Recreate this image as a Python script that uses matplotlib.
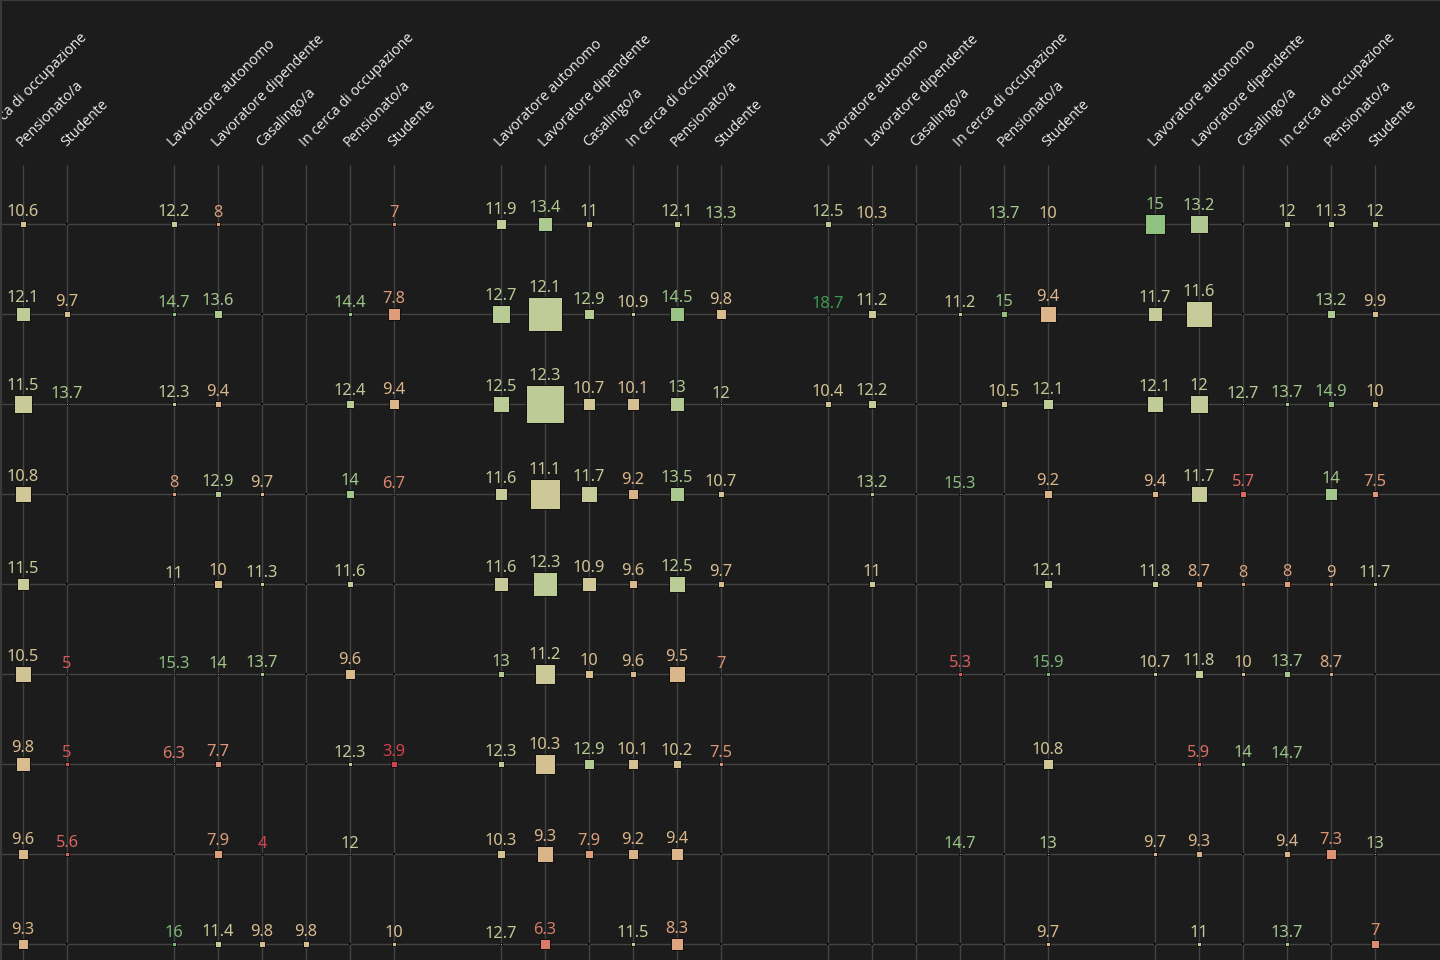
import numpy as np
import matplotlib
matplotlib.use("Agg")
import matplotlib.pyplot as plt
from matplotlib.colors import LinearSegmentedColormap, Normalize
from matplotlib.lines import Line2D

OUT = "out.png"
BG = "#1c1c1c"
GRID = "#444444"

COLS = ["Lavoratore autonomo", "Lavoratore dipendente", "Casalingo/a",
        "In cerca di occupazione", "Pensionato/a", "Studente"]
N_ROWS = 9
N = None

# ---- values (label) and sample size (marker area), one 9x6 block per panel ----
# panel 0 is cut off on the left: only Pensionato/a and Studente are visible
G0_VAL = [[N, N, N, N, 10.6, N],
          [N, N, N, N, 12.1, 9.7],
          [N, N, N, N, 11.5, 13.7],
          [N, N, N, N, 10.8, N],
          [N, N, N, N, 11.5, N],
          [N, N, N, N, 10.5, 5],
          [N, N, N, N, 9.8, 5],
          [N, N, N, N, 9.6, 5.6],
          [N, N, N, N, 9.3, N]]
G0_N = [[N, N, N, N, 46, N],
        [N, N, N, N, 190, 28],
        [N, N, N, N, 290, 3],
        [N, N, N, N, 250, N],
        [N, N, N, N, 165, N],
        [N, N, N, N, 280, 3],
        [N, N, N, N, 215, 18],
        [N, N, N, N, 115, 22],
        [N, N, N, N, 115, N]]

G1_VAL = [[12.2, 8, N, N, N, 7],
          [14.7, 13.6, N, N, 14.4, 7.8],
          [12.3, 9.4, N, N, 12.4, 9.4],
          [8, 12.9, 9.7, N, 14, 6.7],
          [11, 10, 11.3, N, 11.6, N],
          [15.3, 14, 13.7, N, 9.6, N],
          [6.3, 7.7, N, N, 12.3, 3.9],
          [N, 7.9, 4, N, 12, N],
          [16, 11.4, 9.8, 9.8, N, 10]]
G1_N = [[26, 15, N, N, N, 24],
        [15, 64, N, N, 15, 160],
        [24, 32, N, N, 72, 120],
        [21, 48, 15, N, 72, 1],
        [2, 68, 24, N, 36, N],
        [1, 7, 10, N, 100, N],
        [7, 36, N, N, 13, 28],
        [N, 54, 5, N, 7, N],
        [13, 36, 36, 40, N, 24]]

G2_VAL = [[11.9, 13.4, 11, N, 12.1, 13.3],
          [12.7, 12.1, 12.9, 10.9, 14.5, 9.8],
          [12.5, 12.3, 10.7, 10.1, 13, 12],
          [11.6, 11.1, 11.7, 9.2, 13.5, 10.7],
          [11.6, 12.3, 10.9, 9.6, 12.5, 9.7],
          [13, 11.2, 10, 9.6, 9.5, 7],
          [12.3, 10.3, 12.9, 10.1, 10.2, 7.5],
          [10.3, 9.3, 7.9, 9.2, 9.4, N],
          [12.7, 6.3, N, 11.5, 8.3, N]]
G2_N = [[110, 175, 42, N, 40, 7],
        [306, 1190, 110, 18, 220, 120],
        [264, 1480, 150, 132, 175, 5],
        [126, 870, 240, 120, 175, 48],
        [210, 600, 210, 68, 272, 42],
        [40, 370, 54, 48, 240, 3],
        [40, 395, 110, 96, 72, 21],
        [68, 232, 62, 104, 140, N],
        [3, 104, N, 18, 132, N]]

G3_VAL = [[12.5, 10.3, N, N, 13.7, 10],
          [18.7, 11.2, N, 11.2, 15, 9.4],
          [10.4, 12.2, N, N, 10.5, 12.1],
          [N, 13.2, N, 15.3, N, 9.2],
          [N, 11, N, N, N, 12.1],
          [N, N, N, 5.3, N, 15.9],
          [N, N, N, N, N, 10.8],
          [N, N, N, 14.7, N, 13],
          [N, N, N, N, N, 9.7]]
G3_N = [[42, 1, N, N, 1, 3],
        [5, 78, N, 13, 40, 264],
        [32, 68, N, N, 40, 86],
        [N, 21, N, 2, N, 56],
        [N, 42, N, N, N, 68],
        [N, N, N, 13, N, 18],
        [N, N, N, N, N, 86],
        [N, N, N, 2, N, 5],
        [N, N, N, N, N, 24]]

G4_VAL = [[15, 13.2, N, 12, 11.3, 12],
          [11.7, 11.6, N, N, 13.2, 9.9],
          [12.1, 12, 12.7, 13.7, 14.9, 10],
          [9.4, 11.7, 5.7, N, 14, 7.5],
          [11.8, 8.7, 8, 8, 9, 11.7],
          [10.7, 11.8, 10, 13.7, 8.7, N],
          [N, 5.9, 14, 14.7, N, N],
          [9.7, 9.3, N, 9.4, 7.3, 13],
          [N, 11, N, 13.7, N, 7]]
G4_N = [[410, 335, N, 48, 36, 40],
        [205, 670, N, N, 78, 48],
        [240, 345, 7, 13, 28, 40],
        [28, 252, 32, N, 140, 28],
        [36, 48, 13, 32, 10, 24],
        [18, 72, 18, 36, 10, N],
        [N, 21, 24, 5, N, N],
        [18, 42, N, 32, 90, 1],
        [N, 10, N, 24, N, 52]]

PANELS_VAL = [G0_VAL, G1_VAL, G2_VAL, G3_VAL, G4_VAL]
PANELS_N = [G0_N, G1_N, G2_N, G3_N, G4_N]

# muted red -> sand -> green scale
cmap = LinearSegmentedColormap.from_list("rdyl", [
    (0.00, "#d6404e"), (0.10, "#d8605e"), (0.20, "#dc8a70"), (0.30, "#dea680"),
    (0.40, "#d8bc8e"), (0.48, "#cec898"), (0.56, "#bfcc98"), (0.66, "#a8c88e"),
    (0.75, "#92c182"), (1.00, "#3d9a52")])
norm = Normalize(vmin=3.9, vmax=18.7)

# ---- layout (pixel geometry of the crop) ----
PX_COL = 44.0        # column spacing
PX_ROW = 90.0        # row spacing
GROUP_STEP = 327.0 / PX_COL
X_LEFT = 153.0 / PX_COL
Y_TOP = -224.0 / PX_ROW

plt.rcParams["font.family"] = ["Noto Sans", "DejaVu Sans"]
fig = plt.figure(figsize=(14.4, 9.6), dpi=100, facecolor=BG)
ax = fig.add_axes([0, 0, 1, 1])
ax.set_facecolor(BG)
ax.set_xlim(X_LEFT, X_LEFT + 1440 / PX_COL)
ax.set_ylim(Y_TOP + 960 / PX_ROW, Y_TOP)
ax.axis("off")

px2pt = 72.0 / fig.dpi
for r in range(N_ROWS):
    ax.axhline(r, color=GRID, lw=1.0, zorder=1)

for g, (vals, ns) in enumerate(zip(PANELS_VAL, PANELS_N)):
    for c, name in enumerate(COLS):
        x = g * GROUP_STEP + c
        ax.vlines(x, -59 / PX_ROW, Y_TOP + 960 / PX_ROW, color=GRID, lw=1.0, zorder=1)
        ax.text(x - 1 / PX_COL, -77 / PX_ROW, name, rotation=45, rotation_mode="anchor",
                ha="left", va="baseline", color="#ededed", fontsize=10.3,
                family=["Open Sans", "DejaVu Sans"], zorder=3)
        for r in range(N_ROWS):
            v, n = vals[r][c], ns[r][c]
            if v is None:
                ax.scatter([x], [r], s=(2.6 * px2pt) ** 2, marker="s", color="#080808",
                           lw=0, zorder=2)
                continue
            side = max(np.sqrt(n), 1.2)
            col = cmap(norm(v))
            ax.scatter([x], [r], s=(side * px2pt) ** 2, marker="s", color=col,
                       edgecolors="#101010", linewidths=0.7, zorder=4)
            ax.annotate(f"{v:g}", (x, r), xytext=(0, (side / 2 + 5.0) * px2pt),
                        textcoords="offset points", ha="center", va="baseline",
                        color=col, fontsize=11.8, zorder=5)

# faint frame on top/left edge of the screenshot
fig.add_artist(Line2D([0, 1], [0.9995, 0.9995], color="#3a3a3a", lw=1.5, transform=fig.transFigure))
fig.add_artist(Line2D([0.0005, 0.0005], [0, 1], color="#3a3a3a", lw=1.5, transform=fig.transFigure))

fig.savefig(OUT, dpi=100, facecolor=BG)
